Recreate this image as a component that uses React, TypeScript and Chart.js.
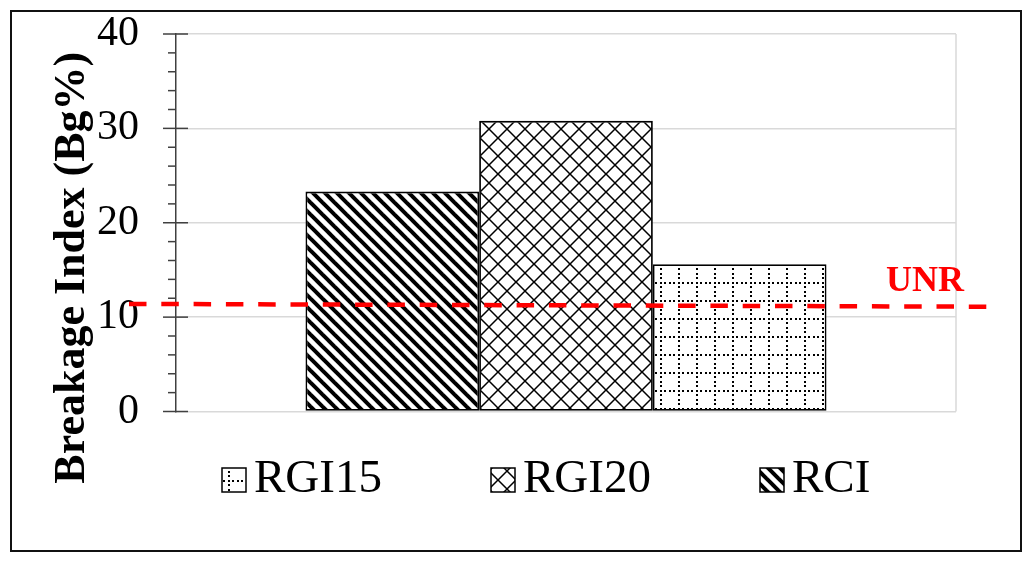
import React, { useEffect, useRef } from 'react';
import { Chart, registerables } from 'chart.js';

Chart.register(...registerables);

// ---- data ----
const categories = [''];
const seriesNames = ['RCI', 'RGI20', 'RGI15'];
const rciValues = [23.3];
const rgi20Values = [30.8];
const rgi15Values = [15.6];
const yTickValues = [0, 10, 20, 30, 40];
const minorTickStep = 2;
const legendOrder = ['RGI15', 'RGI20', 'RCI'];
const unrLabel = 'UNR';
const unrValues = [11.4, 11.1]; // left end, right end of the drawn threshold line
const yTitle = 'Breakage Index (Bg%)';

const FONT = "'Liberation Serif', 'Times New Roman', Times, serif";

function makePattern(size: number, draw: (g: CanvasRenderingContext2D, s: number) => void) {
  const c = document.createElement('canvas');
  c.width = size;
  c.height = size;
  const g = c.getContext('2d')!;
  g.fillStyle = '#ffffff';
  g.fillRect(0, 0, size, size);
  draw(g, size);
  const host = document.createElement('canvas').getContext('2d')!;
  return host.createPattern(c, 'repeat')!;
}

function stripePattern() {
  return makePattern(12, (g, T) => {
    g.strokeStyle = '#000';
    g.lineWidth = 4;
    for (let k = -1; k <= 1; k++) {
      g.beginPath();
      g.moveTo(-2, k * T - 2);
      g.lineTo(T + 2, T + k * T + 2);
      g.stroke();
    }
  });
}

function diamondPattern() {
  return makePattern(18, (g, T) => {
    g.strokeStyle = '#000';
    g.lineWidth = 1.5;
    g.beginPath();
    g.moveTo(-1, -1);
    g.lineTo(T + 1, T + 1);
    g.moveTo(T + 1, -1);
    g.lineTo(-1, T + 1);
    g.stroke();
  });
}

function dottedGridPattern() {
  return makePattern(18, (g) => {
    g.fillStyle = '#000';
    const pos = [0, 4, 9, 13];
    pos.forEach((p) => {
      g.fillRect(p, 0, 2, 2);
      g.fillRect(0, p, 2, 2);
    });
  });
}

const decorPlugin = {
  id: 'decor',
  beforeDatasetsDraw(chart: any) {
    const { ctx, chartArea: ca } = chart;
    ctx.save();
    ctx.strokeStyle = '#d9d9d9';
    ctx.lineWidth = 1.5;
    ctx.beginPath();
    ctx.moveTo(ca.right, ca.top);
    ctx.lineTo(ca.right, ca.bottom);
    ctx.stroke();
    ctx.restore();
  },
  afterDraw(chart: any) {
    const { ctx, chartArea: ca } = chart;
    const y = chart.scales.y;
    ctx.save();

    // tick marks (major crossing, minor outside)
    ctx.strokeStyle = '#404040';
    ctx.lineWidth = 1.5;
    for (let v = y.min; v <= y.max + 1e-9; v += minorTickStep) {
      const py = y.getPixelForValue(v);
      const major = yTickValues.includes(v);
      ctx.beginPath();
      ctx.moveTo(ca.left - (major ? 13 : 8), py);
      ctx.lineTo(ca.left + (major ? 12 : 0), py);
      ctx.stroke();
    }

    // UNR threshold line
    const x0 = ca.left - 47;
    const x1 = ca.right + 43;
    const y0 = y.getPixelForValue(unrValues[0]);
    const y1 = y.getPixelForValue(unrValues[1]);
    ctx.strokeStyle = '#ff0000';
    ctx.lineWidth = 4.5;
    ctx.setLineDash([17.5, 14.8]);
    ctx.beginPath();
    ctx.moveTo(x0, y0);
    ctx.lineTo(x1, y1);
    ctx.stroke();
    ctx.setLineDash([]);

    ctx.fillStyle = '#ff0000';
    ctx.font = `bold 36px ${FONT}`;
    ctx.textAlign = 'left';
    ctx.textBaseline = 'alphabetic';
    ctx.fillText(unrLabel, ca.right - 70, y1 - 16);

    // y-axis title
    ctx.save();
    ctx.translate(ca.left - 92, (ca.top + ca.bottom) / 2 + 45);
    ctx.rotate(-Math.PI / 2);
    ctx.fillStyle = '#000';
    ctx.font = `bold 44px ${FONT}`;
    ctx.textAlign = 'center';
    ctx.textBaseline = 'alphabetic';
    ctx.fillText(yTitle, 0, 0);
    ctx.restore();

    // legend
    const box = 24;
    const lx0 = ca.left + 46;
    const step = 269;
    const cy = ca.bottom + 68.5;
    legendOrder.forEach((name, i) => {
      const ds = chart.data.datasets.find((d: any) => d.label === name);
      const x = lx0 + i * step;
      ctx.fillStyle = ds.backgroundColor;
      ctx.fillRect(x, cy - box / 2, box, box);
      ctx.strokeStyle = '#000';
      ctx.lineWidth = 1.5;
      ctx.strokeRect(x, cy - box / 2, box, box);
      ctx.fillStyle = '#000';
      ctx.font = `47px ${FONT}`;
      ctx.textAlign = 'left';
      ctx.textBaseline = 'middle';
      ctx.fillText(name, x + box + 8, cy);
    });

    ctx.restore();
  },
};

export default function App() {
  const ref = useRef<HTMLCanvasElement>(null);

  useEffect(() => {
    const canvas = ref.current!;
    const patterns: Record<string, CanvasPattern> = {
      RCI: stripePattern(),
      RGI20: diamondPattern(),
      RGI15: dottedGridPattern(),
    };
    const valuesByName: Record<string, number[]> = {
      RCI: rciValues,
      RGI20: rgi20Values,
      RGI15: rgi15Values,
    };
    const chart = new Chart(canvas, {
      type: 'bar',
      data: {
        labels: categories,
        datasets: seriesNames.map((name) => ({
          label: name,
          data: valuesByName[name],
          backgroundColor: patterns[name] as any,
          borderColor: '#000',
          borderWidth: 1.8,
          borderSkipped: false,
          categoryPercentage: 0.668,
          barPercentage: 1,
        })),
      },
      options: {
        responsive: false,
        animation: false,
        events: [],
        layout: { padding: { top: 22, right: 64, bottom: 138.5, left: 0 } },
        plugins: {
          legend: { display: false },
          tooltip: { enabled: false },
          title: { display: false },
        },
        scales: {
          x: {
            display: false,
          },
          y: {
            min: 0,
            max: 40,
            afterBuildTicks: (s: any) => {
              s.ticks = yTickValues.map((v) => ({ value: v }));
            },
            afterFit: (s: any) => {
              s.width = 164;
            },
            ticks: {
              color: '#000',
              padding: 0,
              font: { family: FONT, size: 42, lineHeight: 1 },
            },
            grid: {
              color: '#d9d9d9',
              lineWidth: 1.5,
              drawTicks: true,
              tickLength: 37,
              tickColor: 'rgba(0,0,0,0)',
            },
            border: { display: true, color: '#404040', width: 1.5 },
          },
        },
      },
      plugins: [decorPlugin],
    });
    return () => chart.destroy();
  }, []);

  return (
    <div
      style={{
        position: 'absolute',
        left: 10,
        top: 10,
        width: 1012,
        height: 542,
        border: '2px solid #111',
        boxSizing: 'border-box',
        background: '#fff',
      }}
    >
      <canvas ref={ref} width={1008} height={538} style={{ display: 'block', width: 1008, height: 538 }} />
    </div>
  );
}
